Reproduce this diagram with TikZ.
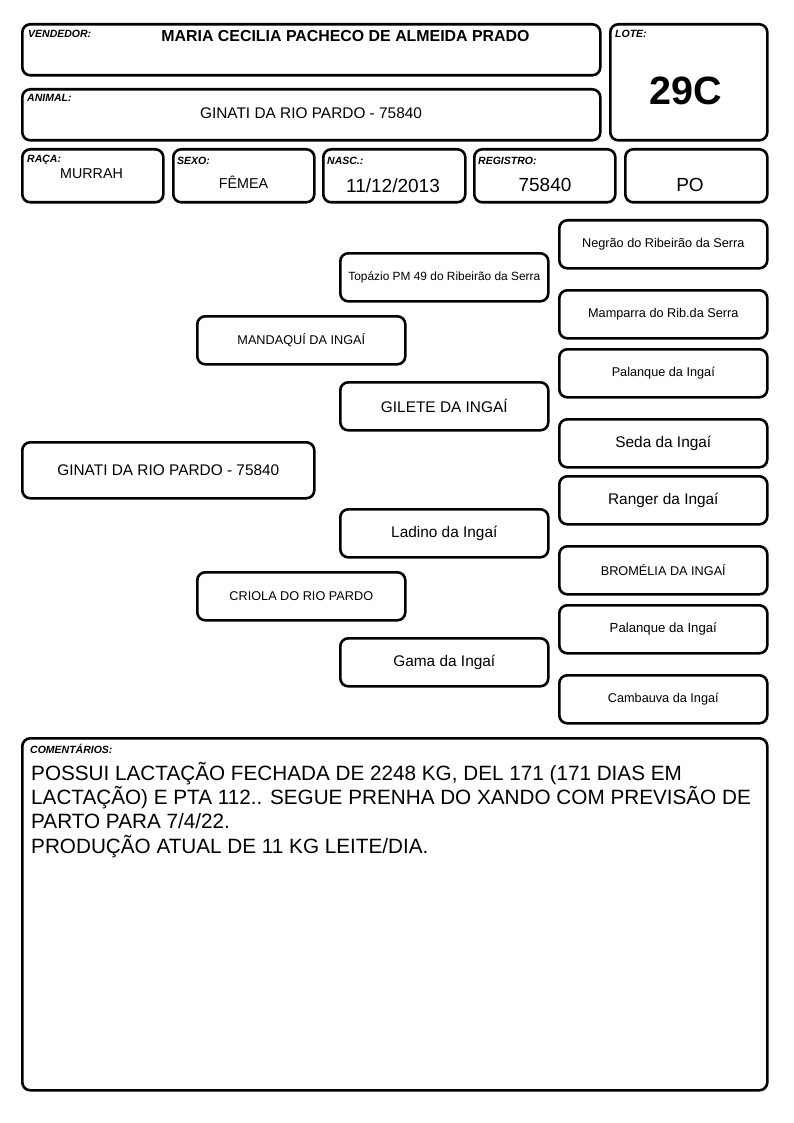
\documentclass[tikz,border=0pt]{standalone}
\usepackage{fontspec}
\setmainfont{Liberation Sans}
\newcommand\fsz[1]{\fontsize{#1}{#1}\selectfont}
\begin{document}
\begin{tikzpicture}[x=1pt,y=-1pt,
  box/.style={draw, line width=2.6pt, rounded corners=8pt, anchor=north west, inner sep=0pt},
  ped/.style={box, minimum width=208pt, minimum height=48pt},
  lab/.style={anchor=base west, inner sep=0pt, font=\fsz{10.5}\bfseries\itshape},
  val/.style={anchor=base, inner sep=0pt},
  small/.style={font=\fsz{12.7}},
  big/.style={font=\fsz{15.4}},
  ctext/.style={anchor=base west, inner sep=0pt, font=\fsz{20.7}}]
\path[use as bounding box, fill=white] (0,0) rectangle (794,1123);
% header boxes
\node[box, minimum width=578pt, minimum height=51pt] (vend) at (21,23) {};
\node[box, minimum width=157pt, minimum height=116pt] (lote) at (609,23) {};
\node[box, minimum width=578pt, minimum height=51pt] (anim) at (21,88) {};
\node[box, minimum width=141pt, minimum height=53pt] (raca) at (21,148) {};
\node[box, minimum width=141pt, minimum height=53pt] (sexo) at (172,148) {};
\node[box, minimum width=142pt, minimum height=53pt] (nasc) at (322,148) {};
\node[box, minimum width=141pt, minimum height=53pt] (reg) at (473,148) {};
\node[box, minimum width=142pt, minimum height=53pt] (po) at (624,148) {};
% header labels
\node[lab] (lvend) at (28,38) {VENDEDOR:};
\node[lab] (llote) at (615,38) {LOTE:};
\node[lab] (lanim) at (27,102) {ANIMAL:};
\node[lab] (lraca) at (27,162.5) {RAÇA:};
\node[lab] (lsexo) at (177,164.5) {SEXO:};
\node[lab] (lnasc) at (327,164.5) {NASC.:};
\node[lab] (lreg) at (478,164.5) {REGISTRO:};
% header values
\node[val, font=\fsz{15.9}\bfseries] (tvend) at (345.5,42) {MARIA CECILIA PACHECO DE ALMEIDA PRADO};
\node[val, font=\fsz{39.5}\bfseries] (tlote) at (686,105) {29C};
\node[val, font=\fsz{15.4}] (tanim) at (311,119) {GINATI DA RIO PARDO - 75840};
\node[val, font=\fsz{14.3}] (traca) at (91.5,178.3) {MURRAH};
\node[val, font=\fsz{14.3}] (tsexo) at (243.5,189) {FÊMEA};
\node[val, font=\fsz{19}] (tnasc) at (393,193) {11/12/2013};
\node[val, font=\fsz{19}] (treg) at (545,192) {75840};
\node[val, font=\fsz{19}] (tpo) at (690,192) {PO};
% pedigree
\node[ped, small] (p1) at (558,219) {Negrão do Ribeirão da Serra};
\node[ped, font=\fsz{11.9}] (p2) at (339,252) {Topázio PM 49 do Ribeirão da Serra};
\node[ped, small] (p3) at (558,289) {Mamparra do Rib.da Serra};
\node[ped, small] (p4) at (196,315) {MANDAQUÍ DA INGAÍ};
\node[ped, small] (p5) at (558,348) {Palanque da Ingaí};
\node[ped, big] (p6) at (339,381) {GILETE DA INGAÍ};
\node[ped, big] (p7) at (558,418) {Seda da Ingaí};
\node[box, big, minimum width=292pt, minimum height=56pt] (p8) at (21,441) {GINATI DA RIO PARDO - 75840};
\node[ped, big] (p9) at (558,475) {Ranger da Ingaí};
\node[ped, big] (p10) at (339,508) {Ladino da Ingaí};
\node[ped, small] (p11) at (558,545) {BROMÉLIA DA INGAÍ};
\node[ped, small] (p12) at (196,571) {CRIOLA DO RIO PARDO};
\node[ped, font=\fsz{13.2}] (p13) at (558,604) {Palanque da Ingaí};
\node[ped, big] (p14) at (339,637) {Gama da Ingaí};
\node[ped, small] (p15) at (558,674) {Cambauva da Ingaí};
% comments
\node[box, minimum width=745pt, minimum height=352pt] (com) at (21,737) {};
\node[lab] (lcom) at (30,753) {COMENTÁRIOS:};
\node[ctext] (c1) at (31,780) {POSSUI LACTAÇÃO FECHADA DE 2248 KG, DEL 171 (171 DIAS EM};
\node[ctext] (c2) at (31,804.3) {LACTAÇÃO) E PTA 112.. SEGUE PRENHA DO XANDO COM PREVISÃO DE};
\node[ctext] (c3) at (31,828.6) {PARTO PARA 7/4/22.};
\node[ctext] (c4) at (31,853) {PRODUÇÃO ATUAL DE 11 KG LEITE/DIA.};
\end{tikzpicture}
\end{document}
